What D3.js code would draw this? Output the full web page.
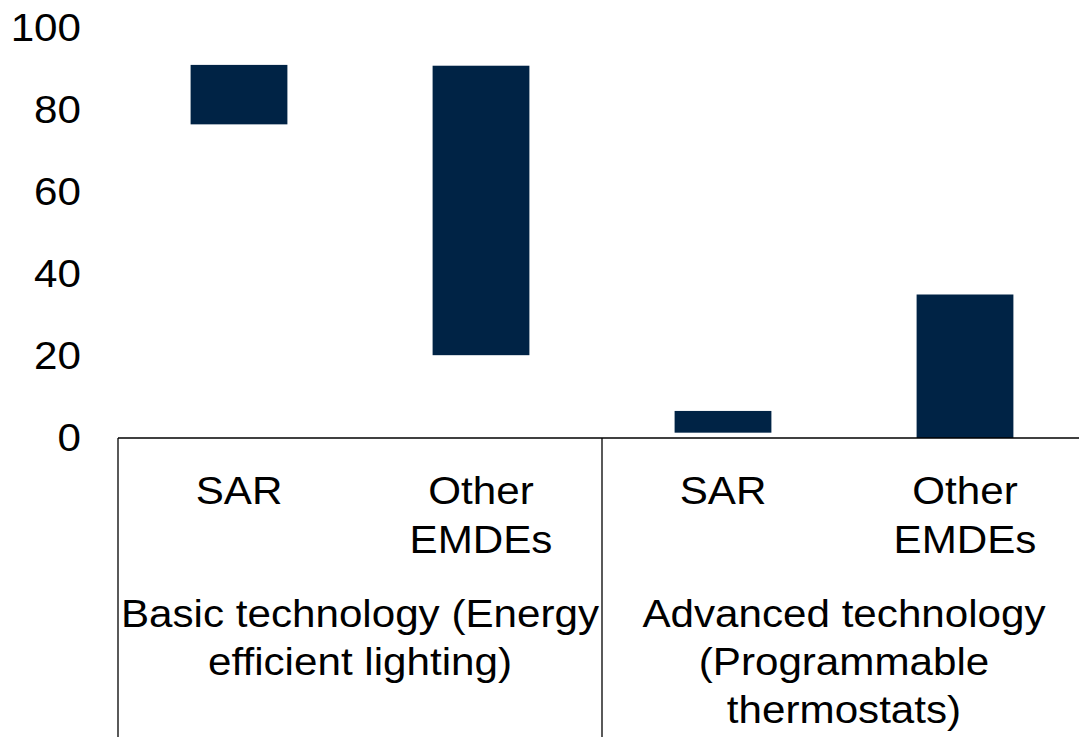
<!DOCTYPE html>
<html><head><meta charset="utf-8">
<script src="https://cdn.jsdelivr.net/npm/d3@7"></script>
<style>body{margin:0;background:#fff}text{font-family:"Liberation Sans",Arial,sans-serif}</style>
</head><body><svg id="c" width="1079" height="737"></svg>
<script>
const groups = ["Basic technology (Energy efficient lighting)", "Advanced technology (Programmable thermostats)"];
const groupLines = [["Basic technology (Energy", "efficient lighting)"], ["Advanced technology", "(Programmable", "thermostats)"]];
const regions = [["SAR"], ["Other", "EMDEs"]];
const keys = ["b-SAR", "b-Other", "a-SAR", "a-Other"];
const lowValues = [76.5, 20.2, 1.3, 0];
const highValues = [91.0, 90.8, 6.6, 35.0];
const yTicks = [0, 20, 40, 60, 80, 100];

const svg = d3.select("#c");
const fs = 38;
const sx = 1.11;
const x = d3.scaleBand().domain(keys).range([118, 1086]).paddingInner(0.6).paddingOuter(0.3);
const y = d3.scaleLinear().domain([0, 100]).range([438, 28]);

// y axis labels
const ya = svg.append("g").attr("transform", `translate(81,0) scale(${sx},1)`)
  .call(d3.axisLeft(y).tickValues(yTicks).tickSize(0).tickPadding(0));
ya.select(".domain").remove();
ya.selectAll("text").style("font-size", fs + "px").attr("fill", "#000").attr("font-family", '"Liberation Sans", Arial, sans-serif');

// bars
svg.append("g").selectAll("rect").data(keys).join("rect")
  .attr("x", d => x(d)).attr("width", x.bandwidth())
  .attr("y", (d, i) => y(highValues[i]))
  .attr("height", (d, i) => y(lowValues[i]) - y(highValues[i]))
  .attr("fill", "#002345");

// x axis line
svg.append("line").attr("x1", 118).attr("x2", 1086).attr("y1", y(0)).attr("y2", y(0))
  .attr("stroke", "#000").attr("stroke-width", 1.5);

// separators
const step = x.step();
[0, 1, 2].forEach(i => {
  const px = 118 + i * 2 * step;
  svg.append("line").attr("x1", px).attr("x2", px).attr("y1", y(0)).attr("y2", 737)
    .attr("stroke", "#000").attr("stroke-width", 1.3);
});

function label(cx, y0, lines, lh) {
  const g = svg.append("g").attr("transform", `translate(${cx},0) scale(${sx},1)`);
  const t = g.append("text").attr("text-anchor", "middle").style("font-size", fs + "px").attr("fill", "#000");
  lines.forEach((l, j) => t.append("tspan").attr("x", 0).attr("y", y0 + j * lh).text(l));
}

// region labels
keys.forEach((k, i) => label(x(k) + x.bandwidth() / 2, 504, regions[i % 2], 49));

// group labels
groups.forEach((g, gi) => label(118 + (gi * 2 + 1) * step, 627, groupLines[gi], 48));
</script></body></html>
